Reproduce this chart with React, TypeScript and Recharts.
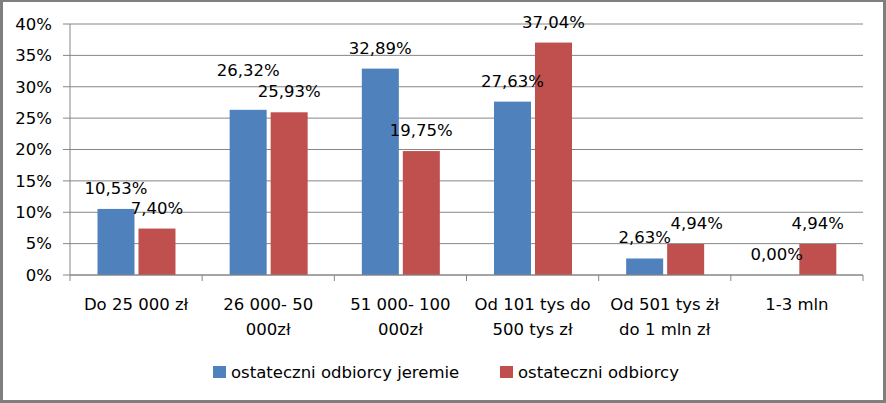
import { BarChart, Bar, XAxis, YAxis, CartesianGrid, Legend } from 'recharts'

const categoryLines = [
  ['Do 25 000 zł'],
  ['26 000- 50', '000zł'],
  ['51 000- 100', '000zł'],
  ['Od 101 tys do', '500 tys zł'],
  ['Od 501 tys żł', 'do 1 mln zł'],
  ['1-3 mln'],
]
const categories = categoryLines.map((l) => l.join(' '))

const jeremie = [10.53, 26.32, 32.89, 27.63, 2.63, 0.0]
const odbiorcy = [7.4, 25.93, 19.75, 37.04, 4.94, 4.94]

const yTicks = [0, 5, 10, 15, 20, 25, 30, 35, 40]

const seriesNames = ['ostateczni odbiorcy jeremie', 'ostateczni odbiorcy']
const BLUE = '#4f81bd'
const RED = '#c0504d'
const GRID = '#868686'
const FONT = '"DejaVu Sans", sans-serif'
const FS = 16.5

const W = 886
const H = 403
const margin = { top: 24, right: 23, left: 0, bottom: 68 }
const Y_W = 70
const BAR_GAP = 4
const band = (W - Y_W - margin.right) / categories.length

// hand-placed label tweaks from the original (Excel moved a couple of labels)
const liftJeremie = [0, 19, 0, 0, 0, 0]
const shiftOdbiorcy = [0, 0, 0, 0, 11, 0]

const data = categories.map((name, i) => ({ name, jeremie: jeremie[i], odbiorcy: odbiorcy[i] }))

const fmt = (v: number) => `${v.toFixed(2).replace('.', ',')}%`

function ValueText({ x, y, v }: { x: number; y: number; v: number }) {
  return (
    <text x={x} y={y} textAnchor="middle" fontFamily={FONT} fontSize={FS} fill="#000">
      {fmt(v)}
    </text>
  )
}

function BlueShape(props: any) {
  const { x, y, width, height } = props
  const h = Math.max(0, Number(height) || 0)
  return h > 0 ? <rect x={x} y={y} width={width} height={h} fill={BLUE} /> : <g />
}

// red bar, then the labels of both bars in this category so text sits above every bar
function RedShape(props: any) {
  const { x, y, width, height, index, payload } = props
  const h = Math.max(0, Number(height) || 0)
  const top = Number(y)
  const base = top + h
  const perUnit = payload.odbiorcy > 0 ? h / payload.odbiorcy : 0
  const blueTop = base - payload.jeremie * perUnit
  const blueCx = Number(x) - BAR_GAP - Number(width) / 2
  const redCx = Number(x) + Number(width) / 2
  return (
    <g>
      {h > 0 && <rect x={x} y={top} width={width} height={h} fill={RED} />}
      <ValueText x={blueCx} y={blueTop - 15 - liftJeremie[index]} v={payload.jeremie} />
      <ValueText x={redCx + shiftOdbiorcy[index]} y={top - 15} v={payload.odbiorcy} />
    </g>
  )
}

function CategoryTick(props: any) {
  const { x, y, payload } = props
  const idx = categories.indexOf(payload.value)
  const lines = categoryLines[idx] || [String(payload.value)]
  return (
    <g>
      <line x1={x - band / 2} x2={x - band / 2} y1={y} y2={y + 6} stroke={GRID} />
      {idx === categories.length - 1 && <line x1={x + band / 2} x2={x + band / 2} y1={y} y2={y + 6} stroke={GRID} />}
      <text textAnchor="middle" fontFamily={FONT} fontSize={FS} fill="#000">
        {lines.map((l, i) => (
          <tspan key={i} x={x} y={y + 35 + i * 25}>
            {l}
          </tspan>
        ))}
      </text>
    </g>
  )
}

function LegendBox() {
  const items = [
    { name: seriesNames[0], color: BLUE, left: 213 },
    { name: seriesNames[1], color: RED, left: 500 },
  ]
  return (
    <div style={{ position: 'relative', width: W, height: 20, fontFamily: FONT, fontSize: FS }}>
      {items.map((it) => (
        <div key={it.name} style={{ position: 'absolute', left: it.left, top: 0, display: 'flex', alignItems: 'center', height: 20, whiteSpace: 'nowrap' }}>
          <span style={{ width: 13, height: 12, background: it.color, display: 'inline-block', marginRight: 5 }} />
          <span style={{ color: '#000' }}>{it.name}</span>
        </div>
      ))}
    </div>
  )
}

export default function App() {
  return (
    <div style={{ position: 'fixed', left: 0, top: 0, width: W, height: H, background: '#fff' }}>
      <BarChart width={W} height={H} data={data} margin={margin} barCategoryGap="20.8%" barGap={BAR_GAP}>
        <CartesianGrid vertical={false} stroke={GRID} />
        <XAxis
          dataKey="name"
          interval={0}
          height={60}
          tickSize={0}
          tickMargin={0}
          tickLine={false}
          axisLine={{ stroke: GRID }}
          tick={<CategoryTick />}
        />
        <YAxis
          width={Y_W}
          domain={[0, 40]}
          ticks={yTicks}
          tickFormatter={(v: number) => `${v}%`}
          tickSize={7}
          tickMargin={11}
          axisLine={{ stroke: GRID }}
          tickLine={{ stroke: GRID }}
          tick={{ fontFamily: FONT, fontSize: FS, fill: '#000' }}
        />
        <Legend layout="horizontal" verticalAlign="middle" align="center" wrapperStyle={{ top: 362, left: 0, width: W }} content={<LegendBox />} />
        <Bar dataKey="jeremie" name={seriesNames[0]} fill={BLUE} isAnimationActive={false} shape={<BlueShape />} />
        <Bar dataKey="odbiorcy" name={seriesNames[1]} fill={RED} isAnimationActive={false} shape={<RedShape />} />
      </BarChart>
      <div
        style={{
          position: 'absolute',
          inset: 0,
          borderTop: '2px solid #7f7f7f',
          borderLeft: '3px solid #7f7f7f',
          borderRight: '3px solid #7f7f7f',
          borderBottom: '3px solid #7f7f7f',
          pointerEvents: 'none',
        }}
      />
    </div>
  )
}
